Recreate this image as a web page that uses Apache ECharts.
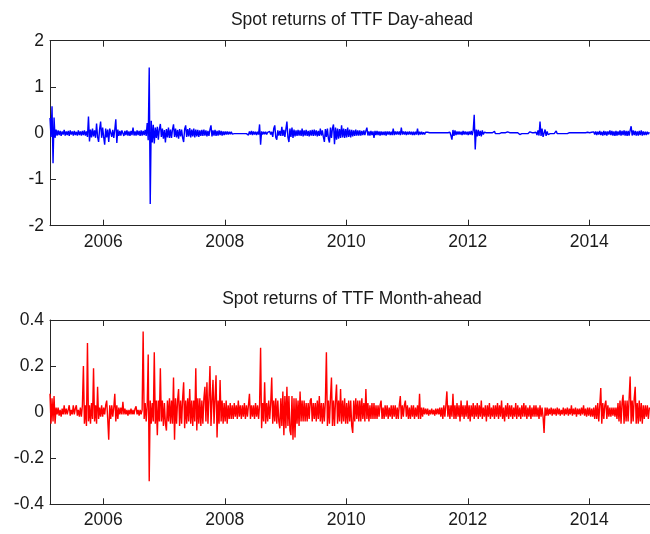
<!DOCTYPE html>
<html>
<head>
<meta charset="utf-8">
<script src="https://cdn.jsdelivr.net/npm/echarts@6/dist/echarts.min.js"></script>
<style>
html,body{margin:0;padding:0;background:#fff;}
#chart{width:650px;height:534px;}
</style>
</head>
<body>
<div id="chart"></div>
<script>
// Time axis: returns sampled every 1/60 year starting here
const startYear = 2005.123;
const yearStep = 1 / 60;
const xMin = 2005.123;
const xMax = 2015.0;
const tickYears = [2006, 2008, 2010, 2012, 2014];

const titleTop = 'Spot returns of TTF Day-ahead';
const titleBottom = 'Spot returns of TTF Month-ahead';

// TTF Day-ahead spot returns, in hundredths (0.01)
const dayAheadPct = [
  33,-8,58,-65,34,-10,8,-5,6,-4,5,-6,4,-3,7,-5,4,-4,5,-6,6,-3,4,-5,5,-4,3,-5,6,-4,
  4,-5,5,-4,6,-5,4,-8,36,-18,8,-9,10,-7,6,-10,21,-8,-19,9,25,-10,12,-8,-25,10,-9,8,-19,10,
  9,-8,7,-10,8,30,-21,8,-6,5,-5,6,10,-6,5,-4,6,-5,4,-6,5,-4,12,-5,4,-5,6,-4,5,-6,
  6,-5,5,-4,7,-6,22,-15,142,-153,27,-20,18,-22,12,-10,14,-14,9,20,-8,10,-12,7,-20,9,-9,12,-10,8,
  -10,8,19,-8,10,-9,7,-12,9,-7,8,-10,-19,9,17,-8,9,-7,11,-9,8,-7,10,-9,8,-7,7,-8,6,-6,
  7,-6,8,-5,6,-7,5,-6,8,17,-7,6,-5,7,-6,5,-5,6,-4,5,-5,4,-4,4,-3,4,-3,3,-2,3,
  -2,1,-1,1,-1,1,-1,2,-1,1,-1,1,-1,2,-1,3,-4,4,-3,5,-4,4,-3,3,-4,3,-3,19,-25,4,
  -3,3,-2,3,-3,2,-2,4,-3,3,-8,10,17,-9,-14,6,-5,5,-6,14,-6,7,-8,9,25,-9,-19,10,-8,12,
  -10,8,-7,6,-6,7,-5,6,-6,10,-7,6,-5,7,-6,5,-7,6,-5,7,-6,8,-5,6,-7,5,-6,10,-5,6,
  -8,-19,9,-8,10,-12,-20,12,-10,11,19,-24,12,-14,10,-12,9,-10,17,-9,10,-10,9,-9,12,-8,8,-9,7,-7,
  6,-6,8,-5,6,-5,6,-5,5,-4,6,-4,5,12,-5,4,-5,5,-4,4,-10,5,-4,5,-4,4,-5,4,-4,3,
  -4,4,-5,4,-3,4,-4,3,-4,10,-4,4,-3,4,-3,4,-4,12,-3,4,-3,4,-4,3,-3,4,-3,3,-4,3,
  -4,3,-3,10,-4,3,-3,3,-3,2,-3,2,-2,2,-1,1,-1,1,-1,1,-1,1,-1,1,-1,1,-1,1,-1,1,
  -1,1,-1,1,-1,2,-5,-14,7,-6,6,-4,4,-3,4,-3,3,-4,5,-3,4,-3,3,-4,4,-3,5,-4,6,40,
  -35,8,-7,7,-6,5,-7,6,-3,2,-1,1,-1,1,-1,1,-1,1,-1,4,-1,1,-1,1,-1,-4,1,-1,1,-1,
  1,-1,3,-1,1,-1,1,-1,1,-1,1,-1,1,-1,-3,1,-1,1,-1,1,-1,1,-1,1,3,-1,1,-1,1,-1,
  2,-4,6,-5,25,-6,10,-8,-12,8,-6,4,-3,1,-1,1,-1,1,-1,1,5,-1,1,-1,1,-1,1,-1,1,-1,
  1,-1,-4,1,-1,1,-1,1,-1,1,-1,1,-1,1,-3,1,-1,1,-1,1,-1,2,-1,1,-2,2,-2,3,-3,4,
  -4,3,-3,5,-4,3,-5,5,-4,4,-5,4,-3,6,-4,5,-5,4,-6,5,-5,4,-4,6,-5,5,-4,6,-5,5,
  -6,5,-5,6,15,-5,6,-4,5,-5,4,-5,5,-4,6,-5,4,-4,3,-4,3,-2,2
];

// TTF Month-ahead spot returns, in hundredths (0.01)
const monthAheadPct = [
  8,-5,6,-4,7,-5,2,-1,2,-1.5,1,-2,1.5,-1,3,-1,1.5,-1,1,3,-1.5,1,-1,3,-1,1.5,3,-1.5,1,-2,
  2,-2,3,20,-5,3,-6,30,-4,3,-5,4,-3,19,-4,3,-5,11,-3,2,-2,3,-2,2,-1,3,5,-3,-12,3,
  -3,3,-2,2,8,-4,3,-3,2,-1,2,-1,4.5,-1,1.5,-1,1,-1.5,1,-1,1.5,-1,1,-1,1.5,2.5,-1,1,-1.5,1,
  -1,1,35,-3,4,-4,3,25,-30,5,-5,4,-4,26,-5,5,-10,5,-4,19,-4,5,-6,4,-5,-8,5,-4,6,-5,
  5,-5,15,-12,6,-5,5,10,-6,5,-5,6,13,-7,5,-5,6,-4,10,-5,5,-6,5,-4,19,-8,6,-5,6,-6,
  5,-5,6,11,-4,13,-5,6,20,-6,5,14,-5,6,16,-11,5,-5,14,-4,5,-5,4,-4,5,-5,3,-3,4,-3,
  3,-3,4,-2,3,-3,5,-2,3,-3,3,-2,4,-3,3,-2,3,8,-3,3,-2,3,-3,4,-2,3,-3,3,28,-7,
  4,-4,13,-5,4,-4,5,-3,4,15,-5,5,-4,6,-5,5,-4,-7,6,-6,9,-10,7,-7,11,-6,7,-8,-10,7,
  -12,6,-11,6,-5,5,-6,9,-4,5,-4,5,-4,4,-4,4,-3,5,6,-4,4,-3,4,-4,5,-3,7,-4,4,-5,
  4,-4,5,26,-6,5,-5,6,15,-6,5,-6,5,12,-5,5,-4,10,-5,5,-4,6,-5,4,-5,5,-4,5,-6,-9,
  5,-4,6,-3,5,-4,5,-4,6,-3,4,-4,10,-3,4,-4,3,-3,4,-3,4,-3,3,-3,3,-2,3,5,-3,2,
  -3,3,-2,3,-3,2,-2,3,-3,3,-2,3,-3,2,-3,3,7,-3,3,-2,3,5,-2,3,-3,2,-3,3,-2,3,
  -3,2,-2,3,-3,8,-3,2,-2,2,-1,1.5,-1,1.5,-1.5,1,-1,1.5,-1,1,-1.5,1.5,-1,1.5,-1,2,-2,2,-3,3,
  -2,3,9,-2,3,-3,3,-2,8,-3,3,-3,4,-2,3,-4,5,-2,3,-3,3,-2,5,-3,3,-4,3,-2,4,-3,
  3,-2,4,-3,3,-2,5,-3,2,-2,3,-4,3,-2,4,-3,2,-2,3,-3,3,-2,4,-3,3,-2,5,-3,2,-4,
  3,-2,4,-3,3,-2,3,-3,2,-2,4,-3,3,-2,2,-3,3,-2,4,-2,3,-3,2,-2,3,-3,2,-2,3,-2,
  3,-2,2,-3,3,-2,2,-2,-9,2,-1.5,2,-1.5,1.5,-1,2,-1.5,1.5,-1,1.5,-1.5,2,-1,1.5,-1.5,1,-1,2,-1.5,1.5,
  -1,2,-1.5,1.5,-1,3,-1.5,1.5,-1,2,-2,1.5,-1,1.5,-1.5,2,-1,3,-1.5,1.5,-2,2,-1.5,2,-2,1.5,-2,2,-3,3,
  -3,4,-4,3,10.5,-5,4,-3,3,5,-3,3,-2,2,-2,2,-1.5,2,-2,2,-3,4,-4,5,-5,4,7.5,-5,5,-4,
  5,-4,6,15.5,-5,5,-4,6,11,-5,4,-5,5,-4,4,-5,3,-3,3,-2,3,-3,2
];

const toSeries = arr => arr.map((v, i) => [startYear + i * yearStep, v / 100]);

const FONT = 'Liberation Sans';
const FS = 17.5;
const axisColor = '#262626';
const textColor = '#1a1a1a';

function xAxes(gridIndex) {
  const line = {show: true, onZero: false, lineStyle: {color: axisColor, width: 1}};
  return [
    {
      type: 'value', gridIndex, min: xMin, max: xMax, position: 'bottom',
      axisLine: line,
      axisTick: {show: true, inside: true, length: 6, customValues: tickYears, lineStyle: {color: axisColor}},
      axisLabel: {show: true, customValues: tickYears, color: textColor, fontFamily: FONT, fontSize: FS, margin: 7,
                  formatter: v => String(Math.round(v))},
      splitLine: {show: false}
    },
    {
      type: 'value', gridIndex, min: xMin, max: xMax, position: 'top',
      axisLine: line,
      axisTick: {show: true, inside: true, length: 6, customValues: tickYears, lineStyle: {color: axisColor}},
      axisLabel: {show: false},
      splitLine: {show: false}
    }
  ];
}

function yAxis(gridIndex, min, max, interval) {
  return {
    type: 'value', gridIndex, min, max, interval,
    axisLine: {show: true, onZero: false, lineStyle: {color: axisColor, width: 1}},
    axisTick: {show: true, inside: true, length: 6, lineStyle: {color: axisColor}},
    axisLabel: {color: textColor, fontFamily: FONT, fontSize: FS, margin: 6},
    splitLine: {show: false}
  };
}

const chart = echarts.init(document.getElementById('chart'), null, {renderer: 'canvas'});
chart.setOption({
  animation: false,
  backgroundColor: '#ffffff',
  title: [
    {text: titleTop, left: 352, top: 11, textAlign: 'center', padding: 0,
     textStyle: {fontFamily: FONT, fontSize: FS, fontWeight: 'normal', color: textColor}},
    {text: titleBottom, left: 352, top: 290.5, textAlign: 'center', padding: 0,
     textStyle: {fontFamily: FONT, fontSize: FS, fontWeight: 'normal', color: textColor}}
  ],
  grid: [
    {left: 50, right: 0, top: 40.7, height: 185},
    {left: 50, right: 0, top: 320, height: 184.3}
  ],
  xAxis: [...xAxes(0), ...xAxes(1)],
  yAxis: [yAxis(0, -2, 2, 1), yAxis(1, -0.4, 0.4, 0.2)],
  series: [
    {type: 'line', name: 'Day-ahead', xAxisIndex: 0, yAxisIndex: 0, data: toSeries(dayAheadPct),
     showSymbol: false, symbol: 'none', sampling: null, lineStyle: {color: '#0000ff', width: 1.4}, itemStyle: {color: '#0000ff'}},
    {type: 'line', name: 'Month-ahead', xAxisIndex: 2, yAxisIndex: 1, data: toSeries(monthAheadPct),
     showSymbol: false, symbol: 'none', sampling: null, lineStyle: {color: '#ff0000', width: 1.4}, itemStyle: {color: '#ff0000'}}
  ]
});
</script>
</body>
</html>
